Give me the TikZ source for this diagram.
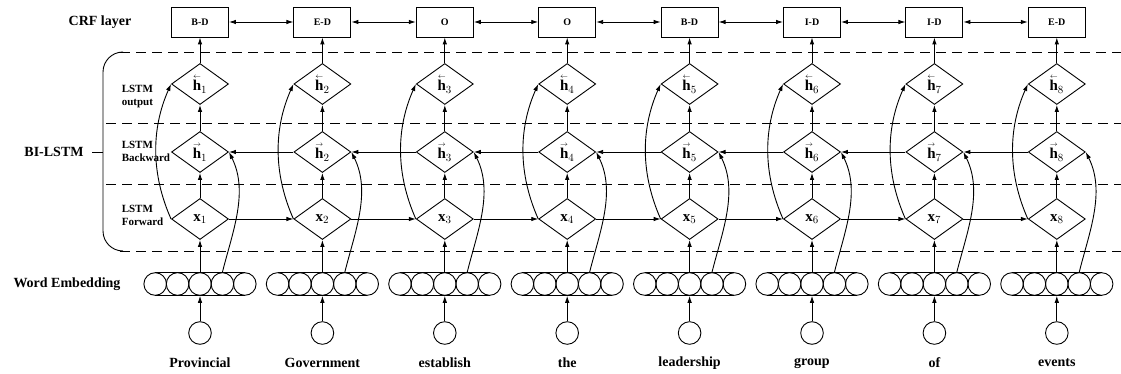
\documentclass[tikz,border=0pt]{standalone}
\usepackage{fontspec}
\setmainfont{Liberation Serif}
\usetikzlibrary{shapes.geometric,arrows.meta}
\tikzset{
    crfbox/.style={draw,rectangle,minimum width=57pt,minimum height=30pt,inner sep=0pt,font=\fontsize{10}{12}\selectfont\bfseries},
    cell/.style={draw,diamond,minimum width=57pt,minimum height=41pt,inner sep=0pt,font=\fontsize{15}{16}\selectfont\bfseries},
    unit/.style={draw,circle,minimum size=22.6pt,inner sep=0pt},
    layername/.style={font=\fontsize{14}{16}\selectfont\bfseries},
    sublayer/.style={anchor=west,align=left,font=\fontsize{11}{13}\selectfont\bfseries},
    rowline/.style={dash pattern=on 10pt off 6pt},
}
\begin{document}
\begin{tikzpicture}[x=1pt,y=-1pt,line width=0.9pt,>={Latex[length=7pt,width=4.5pt]}]
    \useasboundingbox (0,0) rectangle (1121,374);
    % layer names on the left
    \node[layername] (crfname) at (100,22) {CRF layer};
    \node[layername] (bilstm) at (54,152) {BI-LSTM};
    \node[layername] (embname) at (67,284) {Word Embedding};
    \node[sublayer] (outname) at (118,97) {LSTM\\output};
    \node[sublayer] (bwname) at (118,151) {LSTM\\Backward};
    \node[sublayer] (fwname) at (118,215) {LSTM\\Forward};
    \coordinate (brace) at (103,152);
    \draw (bilstm.east) ++(5,0) -- (brace);
    \draw[rounded corners=20pt] (122,52) -- (103,52) -- (103,251) -- (122,251);
    % dashed row separators
    \draw[rowline] (120,52) -- (1121,52);
    \draw[rowline] (106,123) -- (1121,123);
    \draw[rowline] (106,184) -- (1121,184);
    \draw[rowline] (120,251) -- (1121,251);
    % one column per word
    \foreach \w/\t [count=\n] in {Provincial/B-D,Government/E-D,establish/O,the/O,
            leadership/B-D,group/I-D,of/I-D,events/E-D} {
        \pgfmathsetmacro{\X}{200+122.4*(\n-1)}
        \node[crfbox] (c\n) at (\X,22) {\t};
        \node[cell] (ho\n) at (\X,84) {$\stackrel{\scriptscriptstyle\leftarrow}{\textbf{h}}_{\n}$};
        \node[cell] (hb\n) at (\X,152) {$\stackrel{\scriptscriptstyle\rightarrow}{\textbf{h}}_{\n}$};
        \node[cell] (x\n) at (\X,219) {\textbf{x}$_{\n}$};
        \foreach \k in {1,...,5}
            \node[unit] (e\n-\k) at ({\X+22.4*(\k-3)},284) {};
        \draw (e\n-1.north) -- (e\n-5.north);
        \draw (e\n-1.south) -- (e\n-5.south);
        \node[unit] (w\n) at (\X,333) {};
        \node[layername] (t\n) at (\X,363) {\w};
        % vertical flow
        \draw[->] (w\n.north) -- (e\n-3.south);
        \draw[->] (e\n-3.north) -- (x\n.south);
        \draw[->] (x\n.north) -- (hb\n.south);
        \draw[->] (hb\n.north) -- (ho\n.south);
        \draw[->] (ho\n.north) -- (c\n.south);
        % skip connections
        \draw[->] (x\n.west) .. controls +(-20,-45) and +(-20,45) .. (ho\n.west);
        \draw[->] (e\n-4.north) .. controls +(10,-40) and +(20,40) .. (hb\n.east);
    }
    % horizontal links
    \foreach \n [evaluate=\n as \m using int(\n+1)] in {1,...,7} {
        \draw[<->] (c\n.east) -- (c\m.west);
        \draw[->] (x\n.east) -- (x\m.west);
        \draw[->] (hb\m.west) -- (hb\n.east);
    }
\end{tikzpicture}
\end{document}
